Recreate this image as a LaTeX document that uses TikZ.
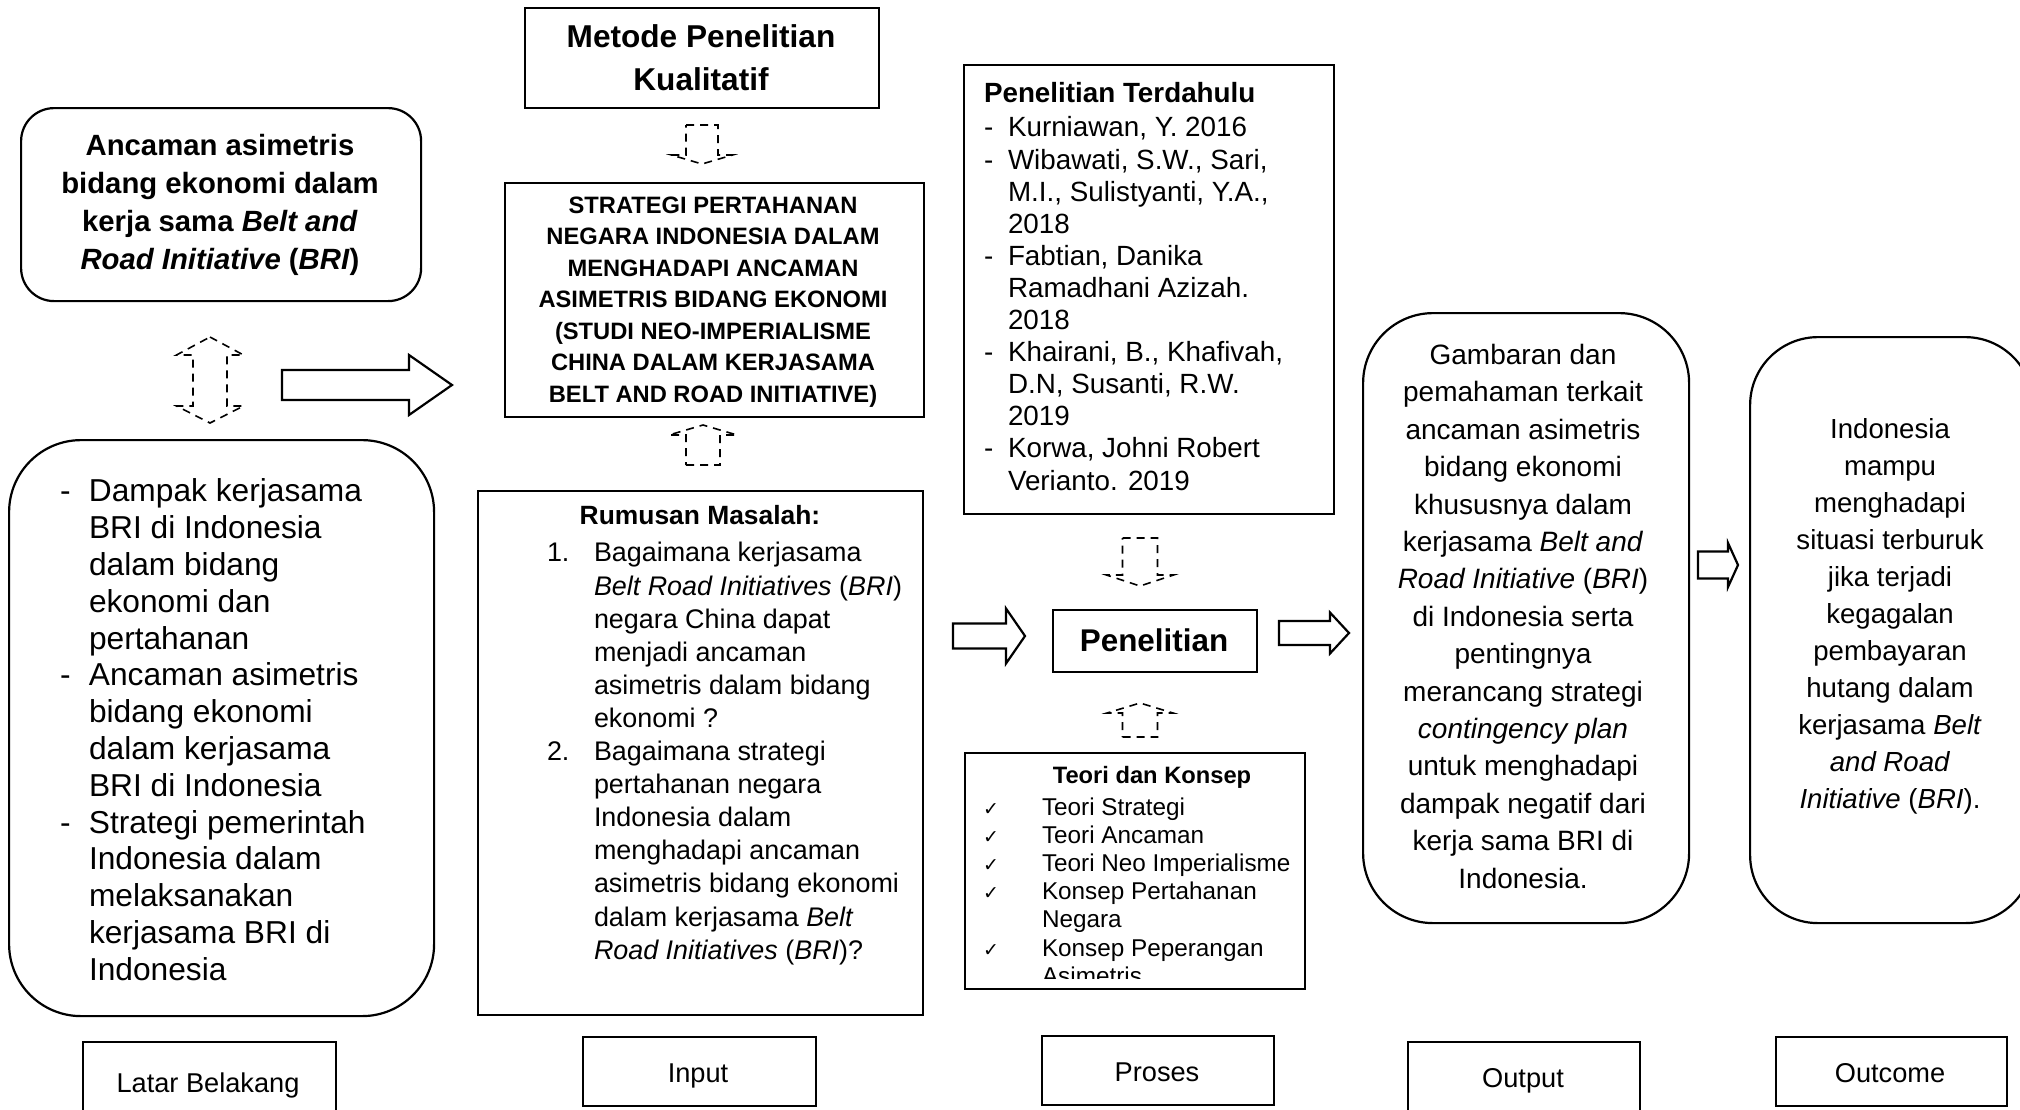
\documentclass[tikz,border=0pt]{standalone}
\usepackage{fontspec}
\setmainfont{Liberation Sans}
\newfontfamily\symfont{DejaVu Sans}
\newcommand\fsz[2]{\fontsize{#1}{#2}\selectfont}
\newcommand\chk{\makebox[59pt][l]{\symfont\fontsize{19}{28}\selectfont ✓}}
\newcommand\RArrow[6]{%
  \draw[blockarrow] (#1,{#4-#5}) -- (#3,{#4-#5}) -- (#3,{#4-#6}) -- (#2,#4) -- (#3,{#4+#6}) -- (#3,{#4+#5}) -- (#1,{#4+#5}) -- cycle;}
\newcommand\VArrow[6]{%
  \draw[dasharrow] ({#1-#2},#4) -- ({#1+#2},#4) -- ({#1+#2},#5) -- ({#1+#3},#5) -- (#1,#6) -- ({#1-#3},#5) -- ({#1-#2},#5) -- cycle;}
\tikzset{
  box/.style={draw, line width=2.2pt, anchor=north west, inner sep=0pt},
  blockarrow/.style={draw, line width=2.2pt, fill=white, line join=miter},
  dasharrow/.style={draw, line width=1.6pt, dash pattern=on 8pt off 6pt},
  txt/.style={inner sep=0pt, outer sep=0pt},
}
\begin{document}
\begin{tikzpicture}[x=1pt,y=-1pt]
\useasboundingbox (0,0) rectangle (2020,1109);
\fill[white] (0,0) rectangle (2020,1109);
\begin{scope}
\clip (0,0) rectangle (2020,1109);

% ---------- Latar Belakang column ----------
\node[box, rounded corners=33pt, minimum width=400pt, minimum height=193pt] (ancamanbox) at (20,107) {};
\node[txt, anchor=north, align=center, font=\bfseries\fsz{29.3}{38}] (ancaman) at (220,128.4)
  {\strut Ancaman asimetris\\bidang ekonomi dalam\\kerja sama \textit{Belt and}\\\textit{Road Initiative} (\textit{BRI})};

\draw[dasharrow] (210,337) -- (243.5,355) -- (227,355) -- (227,406) -- (243.5,406) -- (210,423)
  -- (176.5,406) -- (193,406) -- (193,355) -- (176.5,355) -- cycle;

\node[box, rounded corners=72pt, minimum width=425pt, minimum height=576pt] (leftbox) at (8,439) {};
\node[txt, anchor=north west, align=left, font=\fsz{31.7}{36.8}] (lefttext) at (60,476.2)
  {\strut\makebox[29pt][l]{-}Dampak kerjasama\\
   \hspace*{29pt}BRI di Indonesia\\
   \hspace*{29pt}dalam bidang\\
   \hspace*{29pt}ekonomi dan\\
   \hspace*{29pt}pertahanan\\
   \makebox[29pt][l]{-}Ancaman asimetris\\
   \hspace*{29pt}bidang ekonomi\\
   \hspace*{29pt}dalam kerjasama\\
   \hspace*{29pt}BRI di Indonesia\\
   \makebox[29pt][l]{-}Strategi pemerintah\\
   \hspace*{29pt}Indonesia dalam\\
   \hspace*{29pt}melaksanakan\\
   \hspace*{29pt}kerjasama BRI di\\
   \hspace*{29pt}Indonesia};

\RArrow{282}{452}{409}{385}{15}{30}

% ---------- Input column ----------
\node[box, minimum width=354pt, minimum height=100pt] (metodebox) at (524,7) {};
\node[txt, anchor=north, align=center, font=\bfseries\fsz{31.6}{43}] (metode) at (701,16.9)
  {\strut Metode Penelitian\\Kualitatif};

\VArrow{702}{16}{30.5}{125}{155}{164}

\node[box, minimum width=419pt, minimum height=234pt] (strategibox) at (504,182) {};
\node[txt, anchor=north, align=center, font=\bfseries\fsz{23.7}{31.5}] (strategi) at (713,191)
  {\strut STRATEGI PERTAHANAN\\NEGARA INDONESIA DALAM\\MENGHADAPI ANCAMAN\\ASIMETRIS BIDANG EKONOMI\\(STUDI NEO-IMPERIALISME\\CHINA DALAM KERJASAMA\\BELT AND ROAD INITIATIVE)};

\VArrow{703}{17}{34}{465}{435}{425}

\node[box, minimum width=445pt, minimum height=524pt] (rumusanbox) at (477,490) {};
\node[txt, anchor=base, font=\bfseries\fsz{26.4}{33.1}] (rumusantitle) at (700,524.5) {Rumusan Masalah:};
\node[txt, anchor=north west, align=left, font=\fsz{26.9}{33.1}] (rumusan) at (547,538.8)
  {\strut\makebox[47pt][l]{1.}Bagaimana kerjasama\\
   \hspace*{47pt}\textit{Belt Road Initiatives} (\textit{BRI})\\
   \hspace*{47pt}negara China dapat\\
   \hspace*{47pt}menjadi ancaman\\
   \hspace*{47pt}asimetris dalam bidang\\
   \hspace*{47pt}ekonomi ?\\
   \makebox[47pt][l]{2.}Bagaimana strategi\\
   \hspace*{47pt}pertahanan negara\\
   \hspace*{47pt}Indonesia dalam\\
   \hspace*{47pt}menghadapi ancaman\\
   \hspace*{47pt}asimetris bidang ekonomi\\
   \hspace*{47pt}dalam kerjasama \textit{Belt}\\
   \hspace*{47pt}\textit{Road Initiatives} (\textit{BRI})?};

% ---------- Proses column ----------
\node[box, minimum width=370pt, minimum height=449pt] (terdahulubox) at (963,64) {};
\node[txt, anchor=base west, font=\bfseries\fsz{27.8}{32.1}] (terdahulutitle) at (984,102) {Penelitian Terdahulu};
\node[txt, anchor=north west, align=left, font=\fsz{27.8}{32.1}] (terdahulu) at (984,114.5)
  {\strut\makebox[24pt][l]{-}Kurniawan, Y. 2016\\
   \makebox[24pt][l]{-}Wibawati, S.W., Sari,\\
   \hspace*{24pt}M.I., Sulistyanti, Y.A.,\\
   \hspace*{24pt}2018\\
   \makebox[24pt][l]{-}Fabtian, Danika\\
   \hspace*{24pt}Ramadhani Azizah.\\
   \hspace*{24pt}2018\\
   \makebox[24pt][l]{-}Khairani, B., Khafivah,\\
   \hspace*{24pt}D.N, Susanti, R.W.\\
   \hspace*{24pt}2019\\
   \makebox[24pt][l]{-}Korwa, Johni Robert\\
   \hspace*{24pt}Verianto. 2019};

\VArrow{1140}{17.5}{33.5}{538}{575}{586}

\RArrow{953}{1025}{1006}{636}{12.5}{27.5}
\node[box, minimum width=204pt, minimum height=62pt] (penelitianbox) at (1052,609) {};
\node[txt, anchor=base, font=\bfseries\fsz{31.4}{36}] (penelitian) at (1154,651) {Penelitian};
\RArrow{1279}{1349}{1330}{633}{12}{20.5}

\VArrow{1140}{17.5}{33}{737}{713}{703}

\node[box, minimum width=340pt, minimum height=236pt] (teoribox) at (964,752) {};
\node[txt, anchor=base, font=\bfseries\fsz{23.7}{28.2}] (teorititle) at (1152,783) {Teori dan Konsep};
\begin{scope}
\clip (964,752) rectangle (1304,978);
\node[txt, anchor=north west, align=left, font=\fsz{24.3}{28.2}] (teori) at (983,795.3)
  {\strut\chk Teori Strategi\\
   \chk Teori Ancaman\\
   \chk Teori Neo Imperialisme\\
   \chk Konsep Pertahanan\\
   \hspace*{59pt}Negara\\
   \chk Konsep Peperangan\\
   \hspace*{59pt}Asimetris};
\end{scope}

% ---------- Output column ----------
\node[box, rounded corners=70pt, minimum width=326pt, minimum height=610pt] (outputbox) at (1362,312) {};
\node[txt, anchor=north, align=center, font=\fsz{28}{37.4}] (output) at (1523,338.4)
  {\strut Gambaran dan\\pemahaman terkait\\ancaman asimetris\\bidang ekonomi\\khususnya dalam\\kerjasama \textit{Belt and}\\\textit{Road Initiative} (\textit{BRI})\\di Indonesia serta\\pentingnya\\merancang strategi\\\textit{contingency plan}\\untuk menghadapi\\dampak negatif dari\\kerja sama BRI di\\Indonesia.};

\RArrow{1698}{1738}{1728}{565}{13.5}{22}

% ---------- Outcome column ----------
\node[box, rounded corners=68pt, minimum width=283pt, minimum height=586pt] (outcomebox) at (1749,336) {};
\node[txt, anchor=north, align=center, font=\fsz{27.6}{37}] (outcome) at (1890,412.1)
  {\strut Indonesia\\mampu\\menghadapi\\situasi terburuk\\jika terjadi\\kegagalan\\pembayaran\\hutang dalam\\kerjasama \textit{Belt}\\\textit{and Road}\\\textit{Initiative} (\textit{BRI}).};

% ---------- bottom labels ----------
\node[box, minimum width=253pt, minimum height=80pt] (latarbox) at (82,1041) {};
\node[txt, anchor=base, font=\fsz{27.2}{30}] (latar) at (208,1092) {Latar Belakang};
\node[box, minimum width=233pt, minimum height=69pt] (inputbox) at (582,1036) {};
\node[txt, anchor=base, font=\fsz{27.2}{30}] (input) at (698,1082) {Input};
\node[box, minimum width=232pt, minimum height=69pt] (prosesbox) at (1041,1035) {};
\node[txt, anchor=base, font=\fsz{27.2}{30}] (proses) at (1157,1081) {Proses};
\node[box, minimum width=232pt, minimum height=80pt] (outputlabelbox) at (1407,1041) {};
\node[txt, anchor=base, font=\fsz{27.2}{30}] (outputlabel) at (1523,1087) {Output};
\node[box, minimum width=231pt, minimum height=69pt] (outcomelabelbox) at (1775,1036) {};
\node[txt, anchor=base, font=\fsz{27.2}{30}] (outcomelabel) at (1890,1082) {Outcome};
\end{scope}
\end{tikzpicture}
\end{document}
